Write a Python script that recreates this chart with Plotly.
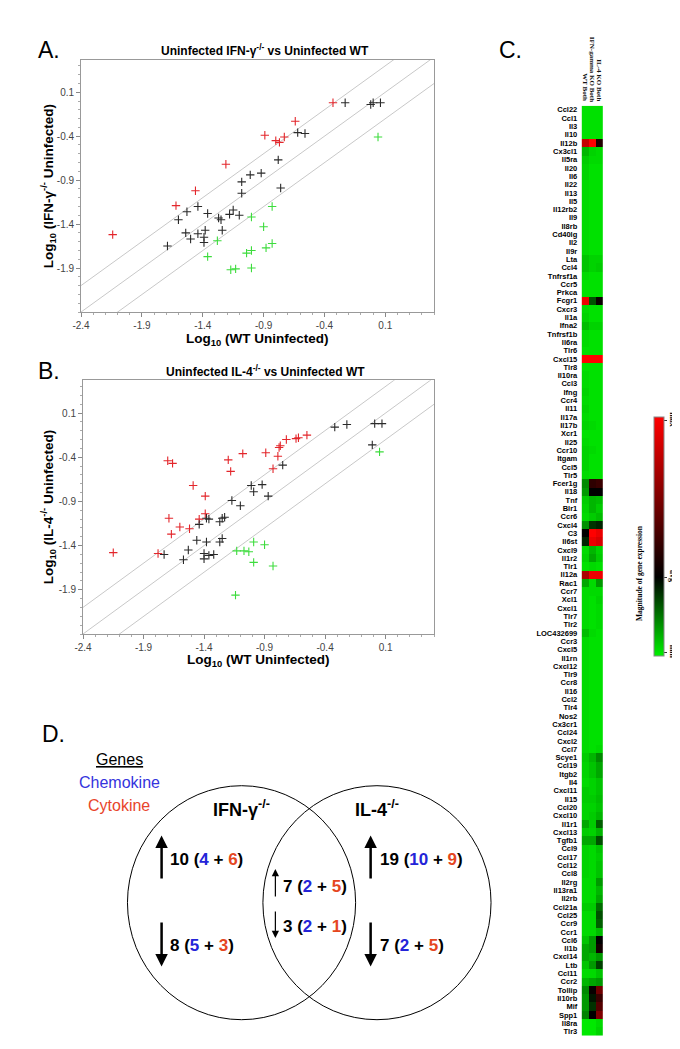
import plotly.graph_objects as go

W, H = 680, 1049
def px(x): return x / W
def py(y): return 1 - y / H

FONT = "Arial, Liberation Sans, sans-serif"

# ---------------- Panel A data (log10 values) ----------------
a_red_x = [-0.33, -0.64, -0.89, -0.80, -0.77, -0.73, -1.21, -1.46, -1.62, -2.14]
a_red_y = [-0.02, -0.23, -0.39, -0.45, -0.47, -0.41, -0.72, -1.02, -1.19, -1.52]
a_blk_x = [-0.23, -0.02, 0.00, 0.06, -0.62, -0.56, -0.78, -0.92, -1.01, -1.08, -1.08, -0.76, -1.44, -1.53,
           -1.60, -1.36, -1.18, -1.15, -1.10, -1.27, -1.25, -1.24, -1.38, -1.44, -1.54, -1.50, -1.39, -1.39, -1.69]
a_blk_y = [-0.02, -0.04, -0.02, -0.02, -0.36, -0.37, -0.67, -0.82, -0.84, -0.92, -1.05, -0.99, -1.20, -1.26,
           -1.35, -1.28, -1.29, -1.24, -1.30, -1.33, -1.35, -1.47, -1.47, -1.51, -1.50, -1.57, -1.55, -1.61, -1.65]
a_grn_x = [0.04, -0.83, -1.00, -0.90, -1.28, -1.36, -1.04, -1.00, -0.88, -0.83, -1.17, -1.13, -1.00]
a_grn_y = [-0.41, -1.20, -1.32, -1.43, -1.59, -1.77, -1.73, -1.70, -1.67, -1.62, -1.92, -1.91, -1.90]

# ---------------- Panel B data ----------------
b_red_x = [-2.15, -1.78, -1.70, -1.66, -1.69, -1.67, -1.60, -1.52, -1.49, -1.39, -1.39, -1.44, -1.20, -1.18,
           -1.08, -0.89, -0.83, -0.79, -0.78, -0.77, -0.72, -0.64, -0.62, -0.55]
b_red_y = [-1.48, -1.49, -0.44, -0.47, -1.09, -1.27, -1.19, -1.21, -0.72, -0.84, -1.04, -1.10, -0.43, -0.56,
           -0.36, -0.35, -0.53, -0.39, -0.29, -0.27, -0.20, -0.19, -0.18, -0.15]
b_blk_x = [-0.32, -0.22, 0.01, 0.07, -0.01, -0.75, -1.01, -0.92, -0.99, -0.87, -1.17, -1.10, -1.38, -1.36,
           -1.44, -1.27, -1.25, -1.23, -1.46, -1.38, -1.27, -1.25, -1.53, -1.73, -1.57, -1.40, -1.40, -1.36, -1.32]
b_blk_y = [-0.06, -0.03, -0.02, -0.02, -0.26, -0.49, -0.72, -0.71, -0.79, -0.84, -0.89, -0.95, -1.09, -1.10,
           -1.16, -1.13, -1.09, -1.08, -1.34, -1.36, -1.36, -1.32, -1.45, -1.50, -1.56, -1.49, -1.55, -1.51, -1.50]
b_grn_x = [0.05, -1.13, -1.07, -1.03, -0.99, -0.90, -0.99, -0.83, -1.14]
b_grn_y = [-0.34, -1.46, -1.46, -1.47, -1.36, -1.39, -1.59, -1.63, -1.96]

tick_vals_x = [-2.4, -1.9, -1.4, -0.9, -0.4, 0.1]
tick_vals_y = [0.1, -0.4, -0.9, -1.4, -1.9]
fold_lines = [0.301, 0.0, -0.301]   # log10(2) boundaries

# ---------------- Panel C heatmap data ----------------
heat_cols = ["WT Both", "IFN-gamma KO Both", "IL-4 KO Both"]
genes = ["Ccl22", "Ccl1", "Il3", "Il10", "Il12b", "Cx3cl1", "Il5ra", "Il20", "Il6", "Il22", "Il13", "Il5",
         "Il12rb2", "Il9", "Il8rb", "Cd40lg", "Il2", "Il9r", "Lta", "Ccl4", "Tnfrsf1a", "Ccr5", "Prkca", "Fcgr1",
         "Cxcr3", "Il1a", "Ifna2", "Tnfrsf1b", "Il6ra", "Tlr6", "Cxcl15", "Tlr8", "Il10ra", "Ccl3", "Ifng", "Ccr4",
         "Il11", "Il17a", "Il17b", "Xcr1", "Il25", "Ccr10", "Itgam", "Ccl5", "Tlr5", "Fcer1g", "Il18", "Tnf",
         "Blr1", "Ccr6", "Cxcl4", "C3", "Il6st", "Cxcl9", "Il1r2", "Tlr1", "Il12a", "Rac1", "Ccr7", "Xcl1",
         "Cxcl1", "Tlr7", "Tlr2", "LOC432699", "Ccr3", "Cxcl5", "Il1rn", "Cxcl12", "Tlr9", "Ccr8", "Il16", "Ccl2",
         "Tlr4", "Nos2", "Cx3cr1", "Ccl24", "Cxcl2", "Ccl7", "Scye1", "Ccl19", "Itgb2", "Il4", "Cxcl11", "Il15",
         "Ccl20", "Cxcl10", "Il1r1", "Cxcl13", "Tgfb1", "Ccl9", "Ccl17", "Ccl12", "Ccl8", "Il2rg", "Il13ra1",
         "Il2rb", "Ccl21a", "Ccl25", "Ccr9", "Ccr1", "Ccl6", "Il1b", "Cxcl14", "Ltb", "Ccl11", "Ccr2", "Tollip",
         "Il10rb", "Mif", "Spp1", "Il8ra", "Tlr3"]
# relative expression: 0 = min (green), 0.33 = avg (black), 1 = max (red)
wt_both = [0.02, 0.02, 0.02, 0.02, 0.85, 0.08, 0.05, 0.04, 0.04, 0.03, 0.03, 0.03,
           0.03, 0.03, 0.03, 0.03, 0.03, 0.03, 0.06, 0.06, 0.03, 0.02, 0.02, 0.95,
           0.03, 0.04, 0.07, 0.03, 0.03, 0.02, 1.00, 0.02, 0.03, 0.03, 0.04, 0.03,
           0.04, 0.03, 0.04, 0.02, 0.03, 0.04, 0.04, 0.04, 0.03, 0.14, 0.12, 0.05,
           0.04, 0.03, 0.13, 0.33, 0.28, 0.03, 0.04, 0.02, 0.78, 0.10, 0.03, 0.03,
           0.03, 0.03, 0.03, 0.07, 0.03, 0.03, 0.03, 0.03, 0.03, 0.03, 0.03, 0.03,
           0.03, 0.03, 0.03, 0.03, 0.03, 0.03, 0.05, 0.04, 0.04, 0.03, 0.05, 0.05,
           0.04, 0.04, 0.10, 0.05, 0.10, 0.04, 0.04, 0.04, 0.04, 0.03, 0.03,
           0.03, 0.05, 0.03, 0.03, 0.03, 0.06, 0.10, 0.10, 0.06, 0.03, 0.08, 0.14,
           0.12, 0.12, 0.15, 0.01, 0.01]
ifn_ko = [0.02, 0.02, 0.02, 0.02, 1.00, 0.04, 0.03, 0.02, 0.02, 0.02, 0.02, 0.02,
          0.02, 0.02, 0.02, 0.02, 0.02, 0.02, 0.04, 0.04, 0.02, 0.02, 0.02, 0.22,
          0.02, 0.02, 0.04, 0.02, 0.02, 0.02, 1.00, 0.02, 0.02, 0.02, 0.02, 0.02,
          0.02, 0.02, 0.03, 0.02, 0.02, 0.03, 0.02, 0.02, 0.02, 0.45, 0.33, 0.08,
          0.08, 0.05, 0.26, 1.00, 0.95, 0.08, 0.10, 0.03, 0.95, 0.03, 0.03, 0.02,
          0.02, 0.02, 0.02, 0.03, 0.02, 0.02, 0.02, 0.02, 0.02, 0.02, 0.02, 0.02,
          0.02, 0.02, 0.02, 0.02, 0.02, 0.02, 0.08, 0.06, 0.06, 0.04, 0.04, 0.05,
          0.04, 0.05, 0.05, 0.04, 0.10, 0.03, 0.03, 0.03, 0.03, 0.03, 0.03,
          0.03, 0.05, 0.03, 0.03, 0.03, 0.12, 0.12, 0.08, 0.12, 0.03, 0.10, 0.35,
          0.30, 0.26, 0.33, 0.01, 0.01]
il4_ko = [0.02, 0.02, 0.02, 0.02, 0.42, 0.03, 0.03, 0.02, 0.02, 0.02, 0.02, 0.02,
          0.02, 0.02, 0.02, 0.02, 0.02, 0.02, 0.04, 0.05, 0.02, 0.02, 0.02, 0.36,
          0.02, 0.02, 0.04, 0.02, 0.02, 0.02, 1.00, 0.02, 0.02, 0.02, 0.02, 0.02,
          0.02, 0.02, 0.02, 0.02, 0.02, 0.02, 0.02, 0.02, 0.02, 0.48, 0.33, 0.07,
          0.05, 0.07, 0.28, 0.95, 0.90, 0.04, 0.05, 0.02, 0.95, 0.12, 0.03, 0.04,
          0.03, 0.03, 0.03, 0.02, 0.02, 0.02, 0.02, 0.02, 0.02, 0.02, 0.02, 0.02,
          0.02, 0.02, 0.02, 0.02, 0.02, 0.03, 0.14, 0.10, 0.10, 0.06, 0.06, 0.07,
          0.06, 0.08, 0.20, 0.08, 0.22, 0.06, 0.05, 0.06, 0.06, 0.12, 0.08,
          0.10, 0.18, 0.22, 0.20, 0.07, 0.33, 0.38, 0.12, 0.24, 0.06, 0.12, 0.62,
          0.48, 0.55, 0.66, 0.03, 0.04]

# ---------------- Panel D Venn counts ----------------
venn_labels = ["IFN-γ<sup>-/-</sup>", "IL-4<sup>-/-</sup>"]
venn_groups = [  # (total, chemokine, cytokine)
    (10, 4, 6),   # IFN only up
    (8, 5, 3),    # IFN only down
    (7, 2, 5),    # both up
    (3, 2, 1),    # both down
    (19, 10, 9),  # IL-4 only up
    (7, 2, 5),    # IL-4 only down
]
BLUE = "#2424d8"
ORANGE = "#e5461f"

RED_M, BLK_M, GRN_M = "#e3262b", "#2a2a2a", "#3ddc3d"

fig = go.Figure()

def scatter_set(xs, ys, color, xa, ya):
    fig.add_trace(go.Scatter(x=xs, y=ys, mode="markers", xaxis=xa, yaxis=ya,
                             marker=dict(symbol="cross-thin", size=6, line=dict(width=1.1, color=color)),
                             hoverinfo="x+y"))

for xa, ya in [("x", "y"), ("x2", "y2")]:
    for off in fold_lines:
        fig.add_trace(go.Scatter(x=[-3, 1], y=[-3 + off, 1 + off], mode="lines", xaxis=xa, yaxis=ya,
                                 line=dict(color="#c8c8c8", width=1), hoverinfo="skip"))

scatter_set(a_red_x, a_red_y, RED_M, "x", "y")
scatter_set(a_blk_x, a_blk_y, BLK_M, "x", "y")
scatter_set(a_grn_x, a_grn_y, GRN_M, "x", "y")
scatter_set(b_red_x, b_red_y, RED_M, "x2", "y2")
scatter_set(b_blk_x, b_blk_y, BLK_M, "x2", "y2")
scatter_set(b_grn_x, b_grn_y, GRN_M, "x2", "y2")

z = [[w, i, l] for w, i, l in zip(wt_both, ifn_ko, il4_ko)]
fig.add_trace(go.Heatmap(
    z=z, x=heat_cols, y=genes, xaxis="x3", yaxis="y3", zmin=0, zmax=1,
    colorscale=[[0, "#00f000"], [0.33, "#000000"], [1, "#ff0000"]],
    colorbar=dict(x=px(643.3), xanchor="left", y=py((399.3 + 658) / 2), yanchor="middle",
                  len=(658 - 399.3) / H, lenmode="fraction", thickness=10, thicknessmode="pixels",
                  outlinecolor="#888", outlinewidth=1,
                  tickvals=[0.015, 0.33, 0.985], ticktext=["min", "avg", "max"], tickangle=90,
                  ticks="outside", ticklen=3, tickcolor="#333",
                  tickfont=dict(family="Liberation Serif, serif", size=8, color="#111", weight=700)),
    hoverinfo="x+y+z"))

tickfont = dict(family=FONT, size=10, color="#444")
def scat_axes(xd, yd):
    xax = dict(domain=xd, range=[-2.4, 0.5], tickvals=tick_vals_x, ticktext=[f"{v:.1f}" for v in tick_vals_x],
               ticks="outside", ticklen=4, tickcolor="#888", showline=True, mirror=True, linecolor="#999",
               linewidth=1, showgrid=False, zeroline=False, tickfont=tickfont,
               minor=dict(tick0=-2.4, dtick=0.1, ticks="outside", ticklen=2, tickcolor="#aaa"))
    yax = dict(domain=yd, range=[-2.4, 0.47], tickvals=tick_vals_y, ticktext=[f"{v:.1f}" for v in tick_vals_y],
               ticks="outside", ticklen=4, tickcolor="#888", showline=True, mirror=True, linecolor="#999",
               linewidth=1, showgrid=False, zeroline=False, tickfont=tickfont,
               minor=dict(tick0=-2.4, dtick=0.1, ticks="outside", ticklen=2, tickcolor="#aaa"))
    return xax, yax

xa1, ya1 = scat_axes([px(65.7), px(427.7)], [py(304), py(51.7)])
xa2, ya2 = scat_axes([px(67.7), px(427.7)], [py(626), py(372.3)])
ya1["anchor"] = "x"; xa1["anchor"] = "y"
xa2["anchor"] = "y2"; ya2["anchor"] = "x2"

xa3 = dict(domain=[px(576.7), px(603.3)], anchor="y3", showticklabels=False, showgrid=False,
           zeroline=False, showline=False, ticks="")
ya3 = dict(domain=[py(1027.7), py(97.7)], anchor="x3", autorange="reversed", showgrid=False,
           zeroline=False, showline=False, ticks="", ticklabelstandoff=1, dtick=1,
           tickfont=dict(family="Liberation Sans Narrow, Liberation Sans, sans-serif", size=7.5,
                         color="#000000", weight=700))

fig.update_layout(
    width=W, height=H, margin=dict(l=0, r=0, t=0, b=0), paper_bgcolor="white", plot_bgcolor="white",
    showlegend=False, font=dict(family=FONT),
    xaxis=xa1, yaxis=ya1, xaxis2=xa2, yaxis2=ya2, xaxis3=xa3, yaxis3=ya3)

ann = []
def text(t, x, y, size, color="black", xanchor="center", yanchor="middle", angle=0, family=FONT, xref="paper"):
    ann.append(dict(text=t, x=px(x), y=py(y), xref="paper", yref="paper", showarrow=False,
                    xanchor=xanchor, yanchor=yanchor, textangle=angle,
                    font=dict(family=family, size=size, color=color)))

# panel letters
text("A.", 33, 42, 23)
text("B.", 33, 363, 23)
text("C.", 506, 42, 23)
text("D.", 37, 726, 23)

# scatter titles
text("<b>Uninfected IFN-γ<sup>-/-</sup> vs Uninfected WT</b>", 254, 42, 12)
text("<b>Uninfected IL-4<sup>-/-</sup> vs Uninfected WT</b>", 255, 363, 12)
text("<b>Log<sub>10</sub> (WT Uninfected)</b>", 247, 331, 13.5)
text("<b>Log<sub>10</sub> (WT Uninfected)</b>", 248, 652, 13.5)
text("<b>Log<sub>10</sub> (IFN-γ<sup>-/-</sup> Uninfected)</b>", 32, 178, 13.5, angle=-90)
text("<b>Log<sub>10</sub> (IL-4<sup>-/-</sup> Uninfected)</b>", 32, 499, 13.5, angle=-90)

# heatmap column labels (rotated, reading downward, ending at heatmap top)
col_w = (603.3 - 576.7) / len(heat_cols)
for i, c in enumerate(heat_cols):
    ann.append(dict(text=f"<b>{c}</b>", x=c, y=py(95.5), xref="x3", yref="paper", showarrow=False,
                    xanchor="center", yanchor="bottom", textangle=90,
                    font=dict(family="Liberation Serif, serif", size=7, color="#111")))

# colorbar title
text("<b>Magnitude of gene expression</b>", 638, 565, 7.5, angle=-90, family="Liberation Serif, serif")

# Venn legend
text("<u>Genes</u>", 105, 751, 16)
text("Chemokine", 105, 774, 16, color="#3434dd")
text("Cytokine", 105, 797, 16, color="#e8452b")
text("<b>" + venn_labels[0] + "</b>", 230, 800, 18)
text("<b>" + venn_labels[1] + "</b>", 369, 800, 18)

def grp(g):
    t, c, k = g
    return (f"<b>{t} (<span style='color:{BLUE}'>{c}</span> + "
            f"<span style='color:{ORANGE}'>{k}</span>)</b>")

venn_pos = [(155.3, 851), (155.3, 937.5), (271, 878), (271, 918.5), (370, 851), (370, 937.5)]
for g, (x, y) in zip(venn_groups, venn_pos):
    text(grp(g), x, y, 17, xanchor="left")

def arrow(x, yhead, ytail, width, head=2, size=1):
    ann.append(dict(text="", x=px(x), y=py(yhead), xref="paper", yref="paper", showarrow=True,
                    ax=0, ay=ytail - yhead, arrowhead=head, arrowsize=size, arrowwidth=width,
                    arrowcolor="black", standoff=0, startstandoff=0))

arrow(148.3, 827.5, 872, 2.5)
arrow(148.3, 958.5, 913, 2.5)
arrow(362.7, 827.5, 872, 2.5)
arrow(362.7, 958.5, 913, 2.5)
arrow(265, 861, 890, 1.2, size=1.2)
arrow(265, 930, 902, 1.2, size=1.2)

fig.update_layout(annotations=ann)

# Venn circles
shapes = []
for cx in (230.3, 369.2):
    r = 117
    shapes.append(dict(type="circle", xref="paper", yref="paper", x0=px(cx - r), x1=px(cx + r),
                       y0=py(894.7 + r), y1=py(894.7 - r), line=dict(color="black", width=1)))
fig.update_layout(shapes=shapes)

fig.write_html("out.html")
